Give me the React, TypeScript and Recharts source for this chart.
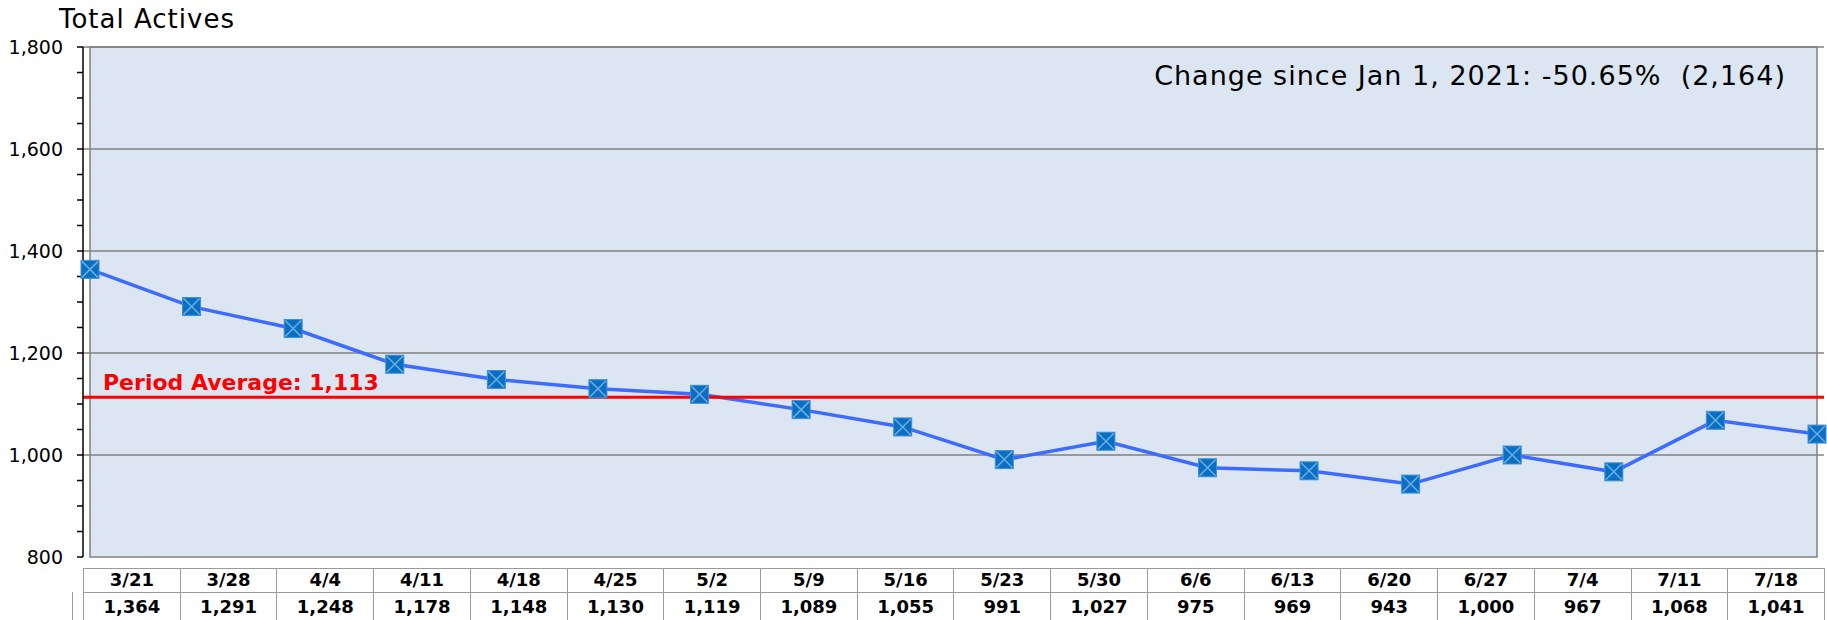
import { LineChart, Line, XAxis, YAxis, ReferenceArea, ReferenceLine } from "recharts"

const dates = ["3/21", "3/28", "4/4", "4/11", "4/18", "4/25", "5/2", "5/9", "5/16", "5/23", "5/30", "6/6", "6/13", "6/20", "6/27", "7/4", "7/11", "7/18"]
const actives = [1364, 1291, 1248, 1178, 1148, 1130, 1119, 1089, 1055, 991, 1027, 975, 969, 943, 1000, 967, 1068, 1041]
const periodAverage = 1113
const yTicks = [800, 850, 900, 950, 1000, 1050, 1100, 1150, 1200, 1250, 1300, 1350, 1400, 1450, 1500, 1550, 1600, 1650, 1700, 1750, 1800]
const gridValues = [1000, 1200, 1400, 1600, 1800]
const title = "Total Actives"
const changeNote = "Change since Jan 1, 2021: -50.65%  (2,164)"

const data = dates.map((date, i) => ({ date, actives: actives[i] }))

const FONT = "'DejaVu Sans', sans-serif"
const fmt = (v: number) => v.toLocaleString("en-US")

// square marker with an X through it, like the excel one
const BoxMarker = (props: any) => {
  const { cx, cy, index } = props
  if (cx == null || cy == null) return null
  const s = 9
  return (
    <g key={"m" + index}>
      <rect x={cx - s} y={cy - s} width={s * 2} height={s * 2} fill="#0A6FC2" stroke="#3F8FD2" strokeWidth={1} />
      <line x1={cx - s + 1} y1={cy - s + 1} x2={cx + s - 1} y2={cy + s - 1} stroke="#6AAFE4" strokeWidth={1.5} />
      <line x1={cx + s - 1} y1={cy - s + 1} x2={cx - s + 1} y2={cy + s - 1} stroke="#6AAFE4" strokeWidth={1.5} />
    </g>
  )
}

const cellBorder = "1px solid #9a9a9a"

export default function App() {
  return (
    <div style={{ position: "absolute", left: 0, top: 0, width: 1827, height: 620, overflow: "hidden", background: "#fff", fontFamily: FONT }}>
      <LineChart width={1827} height={620} data={data} margin={{ top: 47, right: 3, bottom: 63, left: 0 }}>
        <ReferenceArea y1={800} y2={1800} fill="#DCE6F2" fillOpacity={1} stroke="#808080" strokeWidth={1.5} />
        {gridValues.map((v) => (
          <ReferenceLine key={v} y={v} stroke="#808080" strokeWidth={1.5} />
        ))}
        <XAxis dataKey="date" hide padding={{ left: 7, right: 7 }} />
        <YAxis
          type="number"
          domain={[800, 1800]}
          ticks={yTicks}
          interval={0}
          width={83}
          tickSize={6}
          tickMargin={14}
          axisLine={{ stroke: "#000", strokeWidth: 1.5 }}
          tickLine={{ stroke: "#000", strokeWidth: 1.5 }}
          tick={{ fill: "#000", fontSize: 19, fontFamily: FONT }}
          tickFormatter={(v: number) => (v % 200 === 0 ? fmt(v) : "")}
        />
        <Line
          type="linear"
          dataKey="actives"
          stroke="#3D6BFF"
          strokeWidth={3.5}
          dot={<BoxMarker />}
          activeDot={false}
          isAnimationActive={false}
        />
        <ReferenceLine
          y={periodAverage}
          stroke="#FF0000"
          strokeWidth={3}
          label={{
            content: (p: any) => (
              <text x={p.viewBox.x + 20} y={p.viewBox.y - 7} fill="#FF0000" fontSize={22} fontWeight="bold" fontFamily={FONT}>
                {"Period Average: " + fmt(periodAverage)}
              </text>
            ),
          }}
        />
      </LineChart>

      <svg width={1827} height={620} style={{ position: "absolute", left: 0, top: 0, pointerEvents: "none" }}>
        <text x={59} y={28} fontSize={26} letterSpacing={1} fontFamily={FONT} fill="#000">
          {title}
        </text>
        <text x={1786} y={85} textAnchor="end" fontSize={27} letterSpacing={1} fontFamily={FONT} fill="#000" style={{ whiteSpace: "pre" }}>
          {changeNote}
        </text>
      </svg>

      {/* data table under the plot */}
      <div style={{ position: "absolute", left: 83, top: 568, width: 1741, display: "flex", borderTop: cellBorder, borderLeft: cellBorder }}>
        {dates.map((d) => (
          <div key={d} style={{ flex: 1, height: 23, lineHeight: "22px", textAlign: "center", fontWeight: "bold", fontSize: 18, borderRight: cellBorder, borderBottom: cellBorder }}>
            {d}
          </div>
        ))}
      </div>
      <div style={{ position: "absolute", left: 72, top: 592, width: 1752, display: "flex", borderLeft: cellBorder }}>
        <div style={{ width: 10, flex: "none", height: 30, borderRight: cellBorder }} />
        {actives.map((v, i) => (
          <div key={i} style={{ flex: 1, height: 30, lineHeight: "29px", textAlign: "center", fontWeight: "bold", fontSize: 18, borderRight: cellBorder }}>
            {fmt(v)}
          </div>
        ))}
      </div>
    </div>
  )
}
